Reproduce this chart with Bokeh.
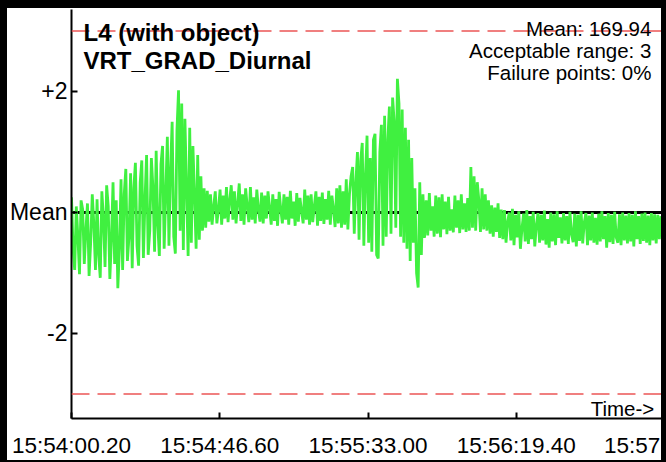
import numpy as np
from bokeh.plotting import figure
from bokeh.models import Span, Label, FixedTicker, Range1d, ColumnDataSource, InlineStyleSheet
from bokeh.embed import file_html
from bokeh.resources import INLINE

# ---------------- data ----------------
sample_step_s = 0.5            # seconds between samples
deviation = [
    0.25, -0.60, -0.95, 0.10, -0.40, -1.02, 0.20, 0.05, -0.85, -0.30,
    0.15, -1.05, -0.50, 0.30, -0.20, -0.95, 0.22, -0.70, -1.08, 0.35,
    -0.10, -0.90, 0.45, 0.10, -1.10, -0.45, 0.50, -0.85, 0.20, -1.25,
    -0.60, 0.55, -0.95, 0.30, 0.72, -0.80, -0.40, 0.65, -0.92, 0.40,
    0.82, -0.55, -0.88, 0.50, 0.86, -0.75, 0.20, 0.95, -0.70, -0.30,
    0.90, 0.40, -0.65, 1.02, -0.20, -0.72, 0.80, 1.10, -0.60, 0.30,
    1.25, -0.55, 0.70, 1.50, -0.40, -0.68, 1.35, 2.02, -0.30, 1.80,
    -0.62, 1.55, 0.40, -0.72, 1.40, -0.50, 1.10, 0.30, -0.60, 0.95,
    -0.45, 0.60, -0.30, 0.40, -0.25, 0.36, -0.15, 0.30, -0.20, 0.10,
    0.35, -0.18, 0.05, 0.38, -0.20, 0.28, -0.10, 0.42, -0.16, 0.20,
    0.45, -0.12, 0.35, -0.18, 0.15, 0.48, -0.14, 0.30, -0.20, 0.40,
    0.10, -0.16, 0.42, -0.12, 0.25, -0.18, 0.38, 0.05, -0.15, 0.33,
    -0.18, 0.28, -0.10, 0.35, 0.08, -0.20, 0.30, -0.14, 0.22, -0.22,
    0.34, 0.05, -0.18, 0.30, -0.12, 0.26, -0.20, 0.36, -0.10, 0.18,
    -0.22, 0.32, -0.15, 0.24, 0.02, -0.18, 0.38, -0.12, 0.28, -0.20,
    0.30, -0.16, 0.10, 0.35, -0.22, 0.26, -0.14, 0.33, -0.19, 0.22,
    -0.12, 0.36, -0.20, 0.28, 0.05, -0.24, 0.40, -0.18, 0.45, -0.25,
    0.35, -0.20, 0.55, -0.28, 0.30, 0.60, 0.75, -0.35, 0.50, 1.00,
    -0.45, 0.85, 1.15, -0.55, 0.60, 1.27, -0.50, 0.90, -0.65, 1.20,
    1.30, -0.70, -0.76, 1.00, 1.45, -0.55, 1.60, -0.40, 1.20, 1.75,
    -0.35, 1.90, 1.50, -0.25, 2.21, 1.80, -0.40, 1.70, -0.50, 1.40,
    -0.60, 1.20, -0.80, 0.90, -0.50, 0.40, -1.00, -1.24, 0.50, -0.70,
    0.30, -0.42, 0.20, -0.38, 0.32, -0.30, 0.10, -0.40, 0.28, -0.35,
    0.25, -0.41, 0.30, -0.28, 0.18, -0.36, 0.26, -0.30, 0.05, -0.33,
    0.28, -0.25, 0.20, -0.34, 0.30, -0.28, 0.15, -0.32, 0.24, -0.30,
    0.75, -0.25, 0.60, -0.30, 0.50, 0.20, -0.32, 0.40, -0.28, 0.30,
    -0.30, 0.20, -0.35, 0.12, -0.40, 0.08, -0.32, 0.15, -0.42, 0.05,
    -0.44, 0.04, -0.50, -0.16, 0.00, -0.46, 0.06, -0.54, -0.04, -0.41,
    0.02, -0.60, -0.26, -0.02, -0.48, 0.04, -0.52, -0.06, -0.44, 0.01,
    -0.56, -0.21, -0.01, -0.50, -0.04, -0.46, 0.03, -0.53, -0.11, -0.58,
    0.00, -0.48, -0.03, -0.54, 0.02, -0.42, -0.08, -0.51, -0.01, -0.46,
    -0.06, -0.52, 0.01, -0.36, -0.49, -0.02, -0.56, -0.04, -0.47, 0.02,
    -0.51, -0.16, -0.01, -0.54, -0.05, -0.46, 0.00, -0.50, -0.09, -0.53,
    -0.02, -0.48, 0.02, -0.44, -0.06, -0.58, -0.01, -0.49, -0.04, -0.52,
    0.01, -0.41, -0.50, -0.03, -0.54, 0.00, -0.46, -0.05, -0.51, -0.01,
    -0.48, -0.04, -0.56, 0.02, -0.44, -0.06, -0.52, -0.02, -0.47, 0.00,
    -0.50, -0.05, -0.54, -0.01, -0.46, -0.03, -0.51, -0.04, -0.44, -0.06,
]
time_s = np.arange(len(deviation)) * sample_step_s

x_tick_pos = [0, 46.4, 92.8, 139.2, 185.6]
x_tick_labels = ["15:54:00.20", "15:54:46.60", "15:55:33.00", "15:56:19.40", "15:57"]
y_tick_pos = [-2, 0, 2]
y_tick_labels = ["-2", "Mean", "+2"]

mean_value = 169.94
acceptable_range = 3
failure_pct = 0
title_lines = ["L4 (with object)", "VRT_GRAD_Diurnal"]

# ---------------- figure ----------------
FONT = "Liberation Sans"
p = figure(width=666, height=462, output_backend="svg", toolbar_location=None,
           x_range=Range1d(0, 185.6), y_range=Range1d(-3.405, 3.355),
           min_border_left=71, min_border_right=2, min_border_top=9, min_border_bottom=44)
p.background_fill_color = "white"
p.border_fill_color = "white"
p.outline_line_color = None
p.grid.visible = False

# thick black frame around the whole picture
p.stylesheets = [InlineStyleSheet(css="""
:host { position: relative; }
:host::after {
  content: ""; position: absolute; left: 0; top: 0; width: 100%; height: 100%;
  box-sizing: border-box; border-style: solid; border-color: black;
  border-width: 8px 5px 2px 7px; pointer-events: none; z-index: 50;
}
""")]

for ax in (p.xaxis[0], p.yaxis[0]):
    ax.axis_line_color = "black"
    ax.axis_line_width = 2
    ax.major_tick_line_color = "black"
    ax.major_tick_line_width = 2
    ax.major_tick_in = 6
    ax.major_tick_out = 0
    ax.minor_tick_line_color = None
    ax.major_label_text_font = FONT
    ax.major_label_text_color = "black"

# the last time label sits at the very right edge; Bokeh keeps it inside the canvas,
# a trailing space lets it end under the frame like in the original picture
labels_shown = x_tick_labels[:-1] + [x_tick_labels[-1] + " "]
p.xaxis.ticker = FixedTicker(ticks=x_tick_pos)
p.xaxis.major_label_overrides = dict(zip(x_tick_pos, labels_shown))
p.xaxis.major_label_standoff = 14
p.xaxis.major_label_text_font_size = "22.5px"
p.yaxis.ticker = FixedTicker(ticks=y_tick_pos)
p.yaxis.major_label_overrides = dict(zip(y_tick_pos, y_tick_labels))
p.yaxis.major_label_standoff = 4
p.yaxis.major_label_text_font_size = "23px"

# limits and mean
for lim in (acceptable_range, -acceptable_range):
    p.add_layout(Span(location=lim, dimension="width", line_color="#ec5656",
                      line_width=1.6, line_dash="18 8"))
p.add_layout(Span(location=0, dimension="width", line_color="black",
                  line_width=3, level="underlay"))

src = ColumnDataSource(dict(t=time_s, v=deviation))
p.line("t", "v", source=src, line_color="#40f040", line_width=2.8)

# texts
p.add_layout(Label(x=3.75, y=2.98, text=title_lines[0], text_font=FONT, text_font_style="bold",
                   text_font_size="24px", text_color="black", text_baseline="alphabetic"))
p.add_layout(Label(x=3.75, y=2.51, text=title_lines[1], text_font=FONT, text_font_style="bold",
                   text_font_size="24px", text_color="black", text_baseline="alphabetic"))
info = [f"Mean: {mean_value:.2f}", f"Acceptable range: {acceptable_range}",
        f"Failure points: {failure_pct}%"]
for txt, yy in zip(info, [3.04, 2.68, 2.31]):
    p.add_layout(Label(x=181.5, y=yy, text=txt, text_font=FONT, text_font_size="20.5px",
                       text_color="black", text_align="right", text_baseline="alphabetic"))
p.add_layout(Label(x=182.4, y=-3.24, text="Time->", text_font=FONT, text_font_size="20.5px",
                   text_color="black", text_align="right", text_baseline="alphabetic"))

open("out.html", "w").write(file_html(p, INLINE))
